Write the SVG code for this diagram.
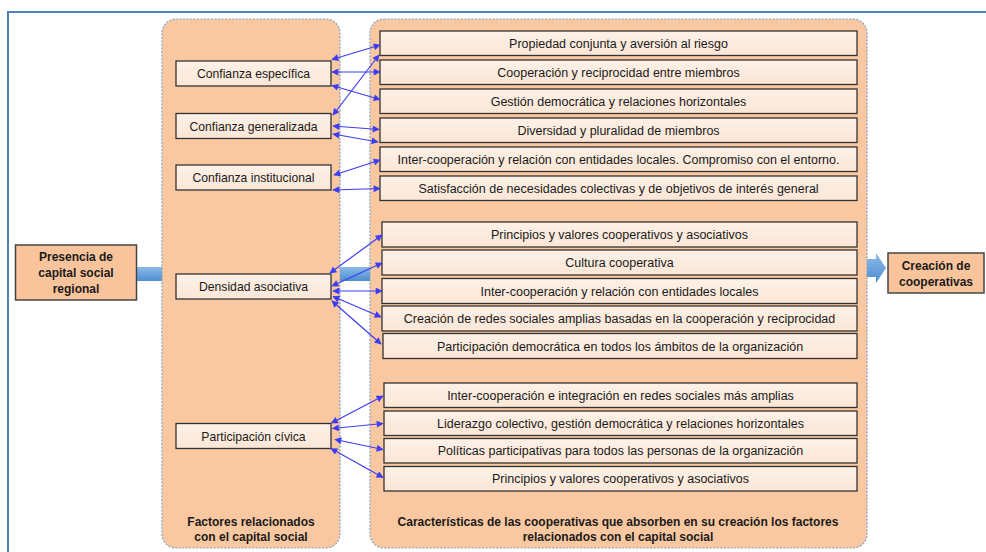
<svg xmlns="http://www.w3.org/2000/svg" width="986" height="552" viewBox="0 0 986 552">
<defs>
<style>
.panel{fill:#F9C8A0;stroke:#7FA3CC;stroke-width:1.2;stroke-dasharray:2,1.5}
.box{fill:url(#boxg);stroke:#333;stroke-width:1.3}
.hbox{fill:#F9C49C;stroke:#444;stroke-width:1.5}
.t{font-family:"Liberation Sans",Arial,sans-serif;font-size:12.5px;fill:#1a1a1a;text-anchor:middle}
.l{font-family:"Liberation Sans",Arial,sans-serif;font-size:12.2px;fill:#1a1a1a;text-anchor:middle}
.b{font-family:"Liberation Sans",Arial,sans-serif;font-size:12px;font-weight:bold;fill:#1a1a1a;text-anchor:middle}
.c{stroke:#3D3DF5;stroke-width:1.2;fill:none;marker-start:url(#ah);marker-end:url(#ah)}
</style>
<linearGradient id="boxg" x1="0" y1="0" x2="0" y2="1">
<stop offset="0" stop-color="#FDF1E7"/>
<stop offset="1" stop-color="#FBE6D6"/>
</linearGradient>
<linearGradient id="blue" x1="0" y1="0" x2="0" y2="1">
<stop offset="0" stop-color="#8DBBE8"/>
<stop offset="1" stop-color="#4D8DD0"/>
</linearGradient>
<marker id="ah" viewBox="0 0 10 10" refX="9" refY="5" markerWidth="8" markerHeight="7" markerUnits="userSpaceOnUse" orient="auto-start-reverse">
<path d="M0,0 L10,5 L0,10 Z" fill="#3D3DF5"/>
</marker>
</defs>
<rect width="986" height="552" fill="#fff"/>
<path d="M8,552 L8,12 L986,12" fill="none" stroke="#4F81BD" stroke-width="2"/>

<g id="band"><rect x="137" y="267" width="236" height="14" fill="url(#blue)"/></g>

<g id="panel-left"><rect class="panel" x="162" y="19" width="178" height="529" rx="14"/>
<text class="b" x="251" y="526">Factores relacionados</text>
<text class="b" x="251" y="541">con el capital social</text></g>
<g id="panel-right"><rect class="panel" x="370" y="19" width="497" height="529" rx="14"/>
<text class="b" x="618" y="526">Características de las cooperativas que absorben en su creación los factores</text>
<text class="b" x="618" y="541">relacionados con el capital social</text></g>

<g id="presencia"><rect class="hbox" x="15.5" y="245" width="121" height="55"/>
<text class="b" x="76" y="261" font-size="13">Presencia de</text>
<text class="b" x="76" y="277" font-size="13">capital social</text>
<text class="b" x="76" y="293" font-size="13">regional</text></g>

<g id="creacion"><rect class="hbox" x="888" y="253" width="96" height="40"/>
<text class="b" x="936" y="270" font-size="13">Creación de</text>
<text class="b" x="936" y="286" font-size="13">cooperativas</text></g>

<g id="arrow-right"><path d="M867,259 L876,259 L876,253 L886,268 L876,283 L876,277 L867,277 Z" fill="url(#blue)"/></g>

<g id="f1"><rect class="box" x="176" y="61" width="155" height="25"/><text class="l" x="253.5" y="78">Confianza específica</text></g>
<g id="f2"><rect class="box" x="176" y="113.5" width="155" height="25"/><text class="l" x="253.5" y="130.5">Confianza generalizada</text></g>
<g id="f3"><rect class="box" x="176" y="165" width="155" height="25"/><text class="l" x="253.5" y="182">Confianza institucional</text></g>
<g id="f4"><rect class="box" x="176" y="274" width="155" height="25"/><text class="l" x="253.5" y="291">Densidad asociativa</text></g>
<g id="f5"><rect class="box" x="176" y="423.5" width="155" height="25"/><text class="l" x="253.5" y="440.5">Participación cívica</text></g>

<g id="r1"><rect class="box" x="380" y="31" width="477" height="24.5"/><text class="t" x="618.5" y="47.5">Propiedad conjunta y aversión al riesgo</text></g>
<g id="r2"><rect class="box" x="380" y="60" width="477" height="24.5"/><text class="t" x="618.5" y="76.5">Cooperación y reciprocidad entre miembros</text></g>
<g id="r3"><rect class="box" x="380" y="89" width="477" height="24.5"/><text class="t" x="618.5" y="105.5">Gestión democrática y relaciones horizontales</text></g>
<g id="r4"><rect class="box" x="380" y="118" width="477" height="24.5"/><text class="t" x="618.5" y="134.5">Diversidad y pluralidad de miembros</text></g>
<g id="r5"><rect class="box" x="380" y="147" width="477" height="24.5"/><text class="t" x="618.5" y="163.5" font-size="12.8">Inter-cooperación y relación con entidades locales. Compromiso con el entorno.</text></g>
<g id="r6"><rect class="box" x="380" y="176" width="477" height="24.5"/><text class="t" x="618.5" y="192.5">Satisfacción de necesidades colectivas y de objetivos de interés general</text></g>

<g id="r7"><rect class="box" x="382" y="222" width="475" height="25"/><text class="t" x="619.5" y="239">Principios y valores cooperativos y asociativos</text></g>
<g id="r8"><rect class="box" x="382" y="250" width="475" height="25"/><text class="t" x="619.5" y="267">Cultura cooperativa</text></g>
<g id="r9"><rect class="box" x="382" y="278.5" width="475" height="25"/><text class="t" x="619.5" y="295.5">Inter-cooperación y relación con entidades locales</text></g>
<g id="r10"><rect class="box" x="382" y="306" width="475" height="25"/><text class="t" x="619.5" y="323">Creación de redes sociales amplias basadas en la cooperación y reciprocidad</text></g>
<g id="r11"><rect class="box" x="383" y="333.5" width="474" height="25"/><text class="t" x="620" y="350.5">Participación democrática en todos los ámbitos de la organización</text></g>

<g id="r12"><rect class="box" x="384" y="383" width="473" height="24.5"/><text class="t" x="620.5" y="399.5">Inter-cooperación e integración en redes sociales más amplias</text></g>
<g id="r13"><rect class="box" x="384" y="411" width="473" height="24.5"/><text class="t" x="620.5" y="427.5">Liderazgo colectivo, gestión democrática y relaciones horizontales</text></g>
<g id="r14"><rect class="box" x="384" y="438.5" width="473" height="24.5"/><text class="t" x="620.5" y="455">Políticas participativas para todos las personas de la organización</text></g>
<g id="r15"><rect class="box" x="384" y="466.5" width="473" height="24.5"/><text class="t" x="620.5" y="483">Principios y valores cooperativos y asociativos</text></g>

<g id="connectors">
<line class="c" x1="332" y1="59.5" x2="380" y2="45"/>
<line class="c" x1="332" y1="72" x2="380" y2="72"/>
<line class="c" x1="332" y1="85.5" x2="380" y2="99.5"/>
<line class="c" x1="333" y1="115" x2="379" y2="55"/>
<line class="c" x1="333" y1="126" x2="379" y2="129.5"/>
<line class="c" x1="333" y1="134" x2="378" y2="142"/>
<line class="c" x1="334" y1="175" x2="380" y2="160"/>
<line class="c" x1="333" y1="190" x2="380" y2="188.5"/>
<line class="c" x1="330" y1="273" x2="382" y2="235"/>
<line class="c" x1="332" y1="286" x2="382" y2="263"/>
<line class="c" x1="333" y1="291" x2="382" y2="291"/>
<line class="c" x1="333" y1="296.5" x2="381" y2="317"/>
<line class="c" x1="332" y1="301" x2="381" y2="344"/>
<line class="c" x1="331.5" y1="423" x2="383" y2="396"/>
<line class="c" x1="332.5" y1="428.5" x2="383" y2="423.5"/>
<line class="c" x1="335" y1="439.5" x2="383" y2="449.5"/>
<line class="c" x1="331" y1="448.5" x2="383" y2="477.5"/>
</g>
</svg>
